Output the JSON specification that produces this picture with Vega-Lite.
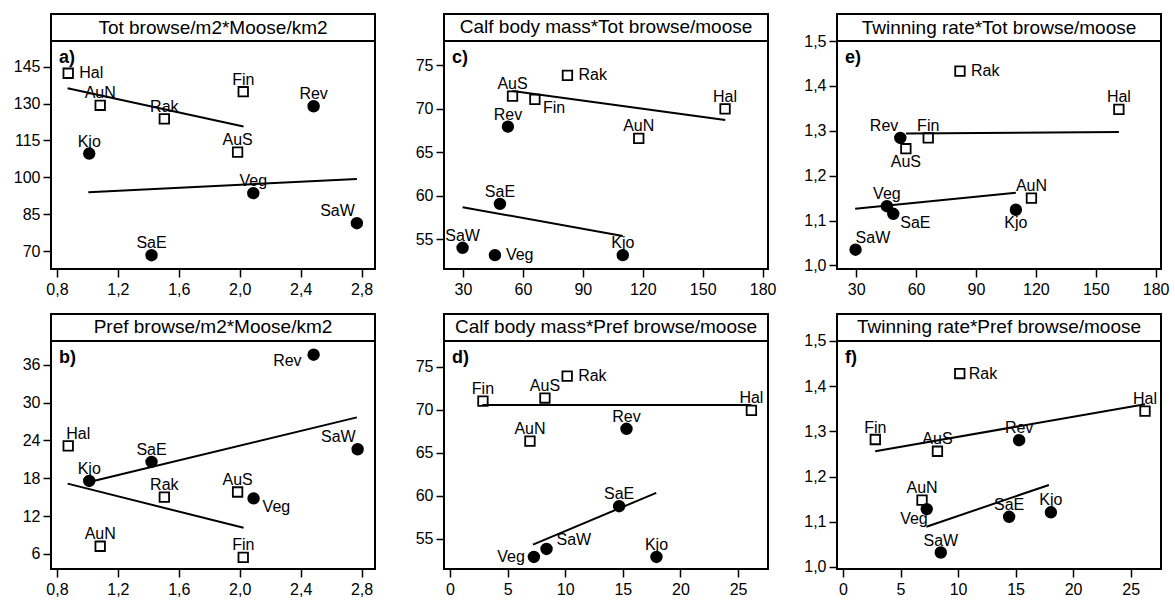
{
  "$schema": "https://vega.github.io/schema/vega-lite/v6.json",
  "padding": {"left": 12, "top": 13, "right": 2, "bottom": 2},
  "config": {
    "font": "Liberation Sans",
    "view": {"stroke": "black", "strokeWidth": 2},
    "axis": {"grid": false, "domain": false, "tickColor": "black", "tickWidth": 1.5, "tickSize": 8, "labelFontSize": 16, "labelColor": "black", "labelFont": "Liberation Sans", "labelFlush": false, "labelOverlap": false, "labelBound": false},
    "axisX": {"labelPadding": 4},
    "axisY": {"labelPadding": 3},
    "text": {"font": "Liberation Sans", "fontSize": 16, "color": "black"}
  },
  "datasets": {
    "pts": [
      {"panel": "a", "site": "Hal", "group": "B", "x": 0.874, "y": 142.3, "side": "r"},
      {"panel": "a", "site": "AuN", "group": "B", "x": 1.084, "y": 129.3, "side": "t"},
      {"panel": "a", "site": "Rak", "group": "B", "x": 1.505, "y": 123.8, "side": "t"},
      {"panel": "a", "site": "Fin", "group": "B", "x": 2.023, "y": 134.8, "side": "t"},
      {"panel": "a", "site": "AuS", "group": "B", "x": 1.986, "y": 110.3, "side": "t"},
      {"panel": "a", "site": "Rev", "group": "A", "x": 2.485, "y": 128.9, "side": "t"},
      {"panel": "a", "site": "Kjo", "group": "A", "x": 1.012, "y": 109.7, "side": "t"},
      {"panel": "a", "site": "Veg", "group": "A", "x": 2.089, "y": 93.6, "side": "t"},
      {"panel": "a", "site": "SaW", "group": "A", "x": 2.769, "y": 81.4, "side": "tl"},
      {"panel": "a", "site": "SaE", "group": "A", "x": 1.421, "y": 68.4, "side": "t"},

      {"panel": "b", "site": "Rev", "group": "A", "x": 2.485, "y": 37.6, "side": "l"},
      {"panel": "b", "site": "Hal", "group": "B", "x": 0.874, "y": 23.15, "side": "tr"},
      {"panel": "b", "site": "SaW", "group": "A", "x": 2.774, "y": 22.6, "side": "tl"},
      {"panel": "b", "site": "SaE", "group": "A", "x": 1.421, "y": 20.6, "side": "t"},
      {"panel": "b", "site": "Kjo", "group": "A", "x": 1.012, "y": 17.57, "side": "t"},
      {"panel": "b", "site": "AuS", "group": "B", "x": 1.986, "y": 15.82, "side": "t"},
      {"panel": "b", "site": "Veg", "group": "A", "x": 2.091, "y": 14.81, "side": "br"},
      {"panel": "b", "site": "Rak", "group": "B", "x": 1.505, "y": 15.02, "side": "t"},
      {"panel": "b", "site": "AuN", "group": "B", "x": 1.084, "y": 7.22, "side": "t"},
      {"panel": "b", "site": "Fin", "group": "B", "x": 2.023, "y": 5.46, "side": "t"},

      {"panel": "c", "site": "AuS", "group": "B", "x": 54.8, "y": 71.46, "side": "t"},
      {"panel": "c", "site": "Rak", "group": "B", "x": 82.3, "y": 73.85, "side": "r"},
      {"panel": "c", "site": "Fin", "group": "B", "x": 66.0, "y": 71.08, "side": "br"},
      {"panel": "c", "site": "Hal", "group": "B", "x": 161.2, "y": 70.0, "side": "t"},
      {"panel": "c", "site": "AuN", "group": "B", "x": 118.0, "y": 66.6, "side": "t"},
      {"panel": "c", "site": "Rev", "group": "A", "x": 52.5, "y": 67.96, "side": "t"},
      {"panel": "c", "site": "SaE", "group": "A", "x": 48.5, "y": 59.08, "side": "t"},
      {"panel": "c", "site": "SaW", "group": "A", "x": 29.8, "y": 54.04, "side": "t"},
      {"panel": "c", "site": "Veg", "group": "A", "x": 46.0, "y": 53.19, "side": "r"},
      {"panel": "c", "site": "Kjo", "group": "A", "x": 110.0, "y": 53.19, "side": "t"},

      {"panel": "d", "site": "Rak", "group": "B", "x": 10.17, "y": 73.91, "side": "r"},
      {"panel": "d", "site": "Fin", "group": "B", "x": 2.86, "y": 71.0, "side": "t"},
      {"panel": "d", "site": "AuS", "group": "B", "x": 8.24, "y": 71.36, "side": "t"},
      {"panel": "d", "site": "Hal", "group": "B", "x": 26.16, "y": 69.92, "side": "t"},
      {"panel": "d", "site": "Rev", "group": "A", "x": 15.32, "y": 67.79, "side": "t"},
      {"panel": "d", "site": "AuN", "group": "B", "x": 6.94, "y": 66.36, "side": "t"},
      {"panel": "d", "site": "SaE", "group": "A", "x": 14.68, "y": 58.8, "side": "t"},
      {"panel": "d", "site": "SaW", "group": "A", "x": 8.38, "y": 53.84, "side": "tr"},
      {"panel": "d", "site": "Veg", "group": "A", "x": 7.28, "y": 52.91, "side": "l"},
      {"panel": "d", "site": "Kjo", "group": "A", "x": 17.92, "y": 52.91, "side": "t"},

      {"panel": "e", "site": "Rak", "group": "B", "x": 82.0, "y": 1.433, "side": "r"},
      {"panel": "e", "site": "Hal", "group": "B", "x": 161.6, "y": 1.3475, "side": "t"},
      {"panel": "e", "site": "Rev", "group": "A", "x": 52.1, "y": 1.284, "side": "tl"},
      {"panel": "e", "site": "Fin", "group": "B", "x": 66.1, "y": 1.284, "side": "t"},
      {"panel": "e", "site": "AuS", "group": "B", "x": 54.9, "y": 1.26, "side": "b"},
      {"panel": "e", "site": "Veg", "group": "A", "x": 45.4, "y": 1.132, "side": "t"},
      {"panel": "e", "site": "SaE", "group": "A", "x": 48.6, "y": 1.115, "side": "br"},
      {"panel": "e", "site": "AuN", "group": "B", "x": 117.8, "y": 1.15, "side": "t"},
      {"panel": "e", "site": "Kjo", "group": "A", "x": 110.0, "y": 1.124, "side": "b"},
      {"panel": "e", "site": "SaW", "group": "A", "x": 29.7, "y": 1.035, "side": "tr"},

      {"panel": "f", "site": "Rak", "group": "B", "x": 10.15, "y": 1.428, "side": "r"},
      {"panel": "f", "site": "Hal", "group": "B", "x": 26.25, "y": 1.345, "side": "t"},
      {"panel": "f", "site": "Fin", "group": "B", "x": 2.81, "y": 1.282, "side": "t"},
      {"panel": "f", "site": "AuS", "group": "B", "x": 8.21, "y": 1.256, "side": "t"},
      {"panel": "f", "site": "Rev", "group": "A", "x": 15.31, "y": 1.2805, "side": "t"},
      {"panel": "f", "site": "AuN", "group": "B", "x": 6.87, "y": 1.148, "side": "t"},
      {"panel": "f", "site": "Veg", "group": "A", "x": 7.28, "y": 1.128, "side": "bl"},
      {"panel": "f", "site": "SaE", "group": "A", "x": 14.44, "y": 1.111, "side": "t"},
      {"panel": "f", "site": "Kjo", "group": "A", "x": 18.07, "y": 1.121, "side": "t"},
      {"panel": "f", "site": "SaW", "group": "A", "x": 8.5, "y": 1.032, "side": "t"}
    ],
    "fits": [
      {"panel": "a", "group": "B", "x": 0.87, "y": 136.2},
      {"panel": "a", "group": "B", "x": 2.025, "y": 120.7},
      {"panel": "a", "group": "A", "x": 1.006, "y": 94.0},
      {"panel": "a", "group": "A", "x": 2.769, "y": 99.4},
      {"panel": "b", "group": "A", "x": 1.012, "y": 17.41},
      {"panel": "b", "group": "A", "x": 2.769, "y": 27.66},
      {"panel": "b", "group": "B", "x": 0.87, "y": 17.15},
      {"panel": "b", "group": "B", "x": 2.025, "y": 10.14},
      {"panel": "c", "group": "B", "x": 54.8, "y": 72.04},
      {"panel": "c", "group": "B", "x": 161.3, "y": 68.73},
      {"panel": "c", "group": "A", "x": 29.8, "y": 58.7},
      {"panel": "c", "group": "A", "x": 110.0, "y": 55.4},
      {"panel": "d", "group": "B", "x": 2.8, "y": 70.54},
      {"panel": "d", "group": "B", "x": 26.16, "y": 70.54},
      {"panel": "d", "group": "A", "x": 7.2, "y": 54.34},
      {"panel": "d", "group": "A", "x": 17.9, "y": 60.35},
      {"panel": "e", "group": "B", "x": 54.9, "y": 1.294},
      {"panel": "e", "group": "B", "x": 161.6, "y": 1.297},
      {"panel": "e", "group": "A", "x": 29.5, "y": 1.126},
      {"panel": "e", "group": "A", "x": 110.0, "y": 1.162},
      {"panel": "f", "group": "B", "x": 2.8, "y": 1.256},
      {"panel": "f", "group": "B", "x": 26.25, "y": 1.36},
      {"panel": "f", "group": "A", "x": 7.25, "y": 1.089},
      {"panel": "f", "group": "A", "x": 17.9, "y": 1.1815}
    ]
  },
  "columns": 3,
  "spacing": {"row": 45, "column": 69},
  "bounds": "flush",
  "concat": [
    {"width": 324, "height": 255,
      "layer": [
        {"data": {"name": "pts"},
          "encoding": {
            "x": {"field": "x", "type": "quantitative", "scale": {"domain": [0.761, 2.888], "nice": false, "zero": false}, "axis": {"title": null, "values": [0.8, 1.2, 1.6, 2.0, 2.4, 2.8], "labelExpr": "replace(format(datum.value,'.1f'),'.',',')"}},
            "y": {"field": "y", "type": "quantitative", "scale": {"domain": [62.8, 166.37], "nice": false, "zero": false}, "axis": {"title": null, "values": [70, 85, 100, 115, 130, 145], "format": "d"}}
          },
          "layer": [
            {"data": {"name": "fits"}, "transform": [{"filter": "datum.panel==='a'"}], "mark": {"type": "line", "color": "black", "strokeWidth": 2}, "encoding": {"detail": {"field": "group", "type": "nominal"}}},
            {"transform": [{"filter": "datum.panel==='a' && datum.group==='A'"}], "mark": {"type": "circle", "size": 154, "color": "black", "opacity": 1}},
            {"transform": [{"filter": "datum.panel==='a' && datum.group==='B'"}], "mark": {"type": "square", "size": 90, "filled": false, "color": "black", "strokeWidth": 1.8, "opacity": 1}},
            {"transform": [{"filter": "datum.panel==='a' && datum.side==='t'"}], "mark": {"type": "text", "dy": -12}, "encoding": {"text": {"field": "site", "type": "nominal"}}},
            {"transform": [{"filter": "datum.panel==='a' && datum.side==='r'"}], "mark": {"type": "text", "align": "left", "dx": 11}, "encoding": {"text": {"field": "site", "type": "nominal"}}},
            {"transform": [{"filter": "datum.panel==='a' && datum.side==='tl'"}], "mark": {"type": "text", "align": "right", "dx": -2, "dy": -12}, "encoding": {"text": {"field": "site", "type": "nominal"}}}
          ]
        },
        {"data": {"values": [{"k": 1}]}, "mark": {"type": "rule", "color": "black", "strokeWidth": 2}, "encoding": {"x": {"datum": 0.761, "axis": {"title": null, "values": [0.8, 1.2, 1.6, 2.0, 2.4, 2.8], "labelExpr": "replace(format(datum.value,'.1f'),'.',',')"}}, "x2": {"datum": 2.888}, "y": {"datum": 155.4, "axis": {"title": null, "values": [70, 85, 100, 115, 130, 145], "format": "d"}}}},
        {"data": {"values": [{"t": "Tot browse/m2*Moose/km2"}]}, "mark": {"type": "text", "fontSize": 19}, "encoding": {"x": {"datum": 1.8245, "axis": {"title": null, "values": [0.8, 1.2, 1.6, 2.0, 2.4, 2.8], "labelExpr": "replace(format(datum.value,'.1f'),'.',',')"}}, "y": {"datum": 160.88, "axis": {"title": null, "values": [70, 85, 100, 115, 130, 145], "format": "d"}}, "text": {"field": "t", "type": "nominal"}}},
        {"data": {"values": [{"l": "a)"}]}, "mark": {"type": "text", "align": "left", "fontWeight": "bold", "fontSize": 18}, "encoding": {"x": {"datum": 0.8135, "axis": {"title": null, "values": [0.8, 1.2, 1.6, 2.0, 2.4, 2.8], "labelExpr": "replace(format(datum.value,'.1f'),'.',',')"}}, "y": {"datum": 148.5, "axis": {"title": null, "values": [70, 85, 100, 115, 130, 145], "format": "d"}}, "text": {"field": "l", "type": "nominal"}}}
      ]
    },
    {"width": 324, "height": 255,
      "layer": [
        {"data": {"name": "pts"},
          "encoding": {
            "x": {"field": "x", "type": "quantitative", "scale": {"domain": [20.5, 182.7], "nice": false, "zero": false}, "axis": {"title": null, "values": [30, 60, 90, 120, 150, 180], "format": "d"}},
            "y": {"field": "y", "type": "quantitative", "scale": {"domain": [51.6, 80.9], "nice": false, "zero": false}, "axis": {"title": null, "values": [55, 60, 65, 70, 75], "format": "d"}}
          },
          "layer": [
            {"data": {"name": "fits"}, "transform": [{"filter": "datum.panel==='c'"}], "mark": {"type": "line", "color": "black", "strokeWidth": 2}, "encoding": {"detail": {"field": "group", "type": "nominal"}}},
            {"transform": [{"filter": "datum.panel==='c' && datum.group==='A'"}], "mark": {"type": "circle", "size": 154, "color": "black", "opacity": 1}},
            {"transform": [{"filter": "datum.panel==='c' && datum.group==='B'"}], "mark": {"type": "square", "size": 90, "filled": false, "color": "black", "strokeWidth": 1.8, "opacity": 1}},
            {"transform": [{"filter": "datum.panel==='c' && datum.side==='t'"}], "mark": {"type": "text", "dy": -12}, "encoding": {"text": {"field": "site", "type": "nominal"}}},
            {"transform": [{"filter": "datum.panel==='c' && datum.side==='r'"}], "mark": {"type": "text", "align": "left", "dx": 11}, "encoding": {"text": {"field": "site", "type": "nominal"}}},
            {"transform": [{"filter": "datum.panel==='c' && datum.side==='br'"}], "mark": {"type": "text", "align": "left", "dx": 8, "dy": 9}, "encoding": {"text": {"field": "site", "type": "nominal"}}}
          ]
        },
        {"data": {"values": [{"k": 1}]}, "mark": {"type": "rule", "color": "black", "strokeWidth": 2}, "encoding": {"x": {"datum": 20.5, "axis": {"title": null, "values": [30, 60, 90, 120, 150, 180], "format": "d"}}, "x2": {"datum": 182.7}, "y": {"datum": 77.8, "axis": {"title": null, "values": [55, 60, 65, 70, 75], "format": "d"}}}},
        {"data": {"values": [{"t": "Calf body  mass*Tot browse/moose"}]}, "mark": {"type": "text", "fontSize": 19}, "encoding": {"x": {"datum": 101.6, "axis": {"title": null, "values": [30, 60, 90, 120, 150, 180], "format": "d"}}, "y": {"datum": 79.35, "axis": {"title": null, "values": [55, 60, 65, 70, 75], "format": "d"}}, "text": {"field": "t", "type": "nominal"}}},
        {"data": {"values": [{"l": "c)"}]}, "mark": {"type": "text", "align": "left", "fontWeight": "bold", "fontSize": 18}, "encoding": {"x": {"datum": 24.5, "axis": {"title": null, "values": [30, 60, 90, 120, 150, 180], "format": "d"}}, "y": {"datum": 75.84, "axis": {"title": null, "values": [55, 60, 65, 70, 75], "format": "d"}}, "text": {"field": "l", "type": "nominal"}}}
      ]
    },
    {"width": 324, "height": 255,
      "layer": [
        {"data": {"name": "pts"},
          "encoding": {
            "x": {"field": "x", "type": "quantitative", "scale": {"domain": [20.4, 182.7], "nice": false, "zero": false}, "axis": {"title": null, "values": [30, 60, 90, 120, 150, 180], "format": "d"}},
            "y": {"field": "y", "type": "quantitative", "scale": {"domain": [0.992, 1.5602], "nice": false, "zero": false}, "axis": {"title": null, "values": [1.0, 1.1, 1.2, 1.3, 1.4, 1.5], "labelExpr": "replace(format(datum.value,'.1f'),'.',',')"}}
          },
          "layer": [
            {"data": {"name": "fits"}, "transform": [{"filter": "datum.panel==='e'"}], "mark": {"type": "line", "color": "black", "strokeWidth": 2}, "encoding": {"detail": {"field": "group", "type": "nominal"}}},
            {"transform": [{"filter": "datum.panel==='e' && datum.group==='A'"}], "mark": {"type": "circle", "size": 154, "color": "black", "opacity": 1}},
            {"transform": [{"filter": "datum.panel==='e' && datum.group==='B'"}], "mark": {"type": "square", "size": 90, "filled": false, "color": "black", "strokeWidth": 1.8, "opacity": 1}},
            {"transform": [{"filter": "datum.panel==='e' && datum.side==='t'"}], "mark": {"type": "text", "dy": -12}, "encoding": {"text": {"field": "site", "type": "nominal"}}},
            {"transform": [{"filter": "datum.panel==='e' && datum.side==='b'"}], "mark": {"type": "text", "dy": 13}, "encoding": {"text": {"field": "site", "type": "nominal"}}},
            {"transform": [{"filter": "datum.panel==='e' && datum.side==='r'"}], "mark": {"type": "text", "align": "left", "dx": 11}, "encoding": {"text": {"field": "site", "type": "nominal"}}},
            {"transform": [{"filter": "datum.panel==='e' && datum.side==='tl'"}], "mark": {"type": "text", "align": "right", "dx": -2, "dy": -12}, "encoding": {"text": {"field": "site", "type": "nominal"}}},
            {"transform": [{"filter": "datum.panel==='e' && datum.side==='tr'"}], "mark": {"type": "text", "align": "left", "dx": 0, "dy": -12}, "encoding": {"text": {"field": "site", "type": "nominal"}}},
            {"transform": [{"filter": "datum.panel==='e' && datum.side==='br'"}], "mark": {"type": "text", "align": "left", "dx": 7, "dy": 9}, "encoding": {"text": {"field": "site", "type": "nominal"}}}
          ]
        },
        {"data": {"values": [{"k": 1}]}, "mark": {"type": "rule", "color": "black", "strokeWidth": 2}, "encoding": {"x": {"datum": 20.4, "axis": {"title": null, "values": [30, 60, 90, 120, 150, 180], "format": "d"}}, "x2": {"datum": 182.7}, "y": {"datum": 1.5, "axis": {"title": null, "values": [1.0, 1.1, 1.2, 1.3, 1.4, 1.5], "labelExpr": "replace(format(datum.value,'.1f'),'.',',')"}}}},
        {"data": {"values": [{"t": "Twinning rate*Tot browse/moose"}]}, "mark": {"type": "text", "fontSize": 19}, "encoding": {"x": {"datum": 101.55, "axis": {"title": null, "values": [30, 60, 90, 120, 150, 180], "format": "d"}}, "y": {"datum": 1.5301, "axis": {"title": null, "values": [1.0, 1.1, 1.2, 1.3, 1.4, 1.5], "labelExpr": "replace(format(datum.value,'.1f'),'.',',')"}}, "text": {"field": "t", "type": "nominal"}}},
        {"data": {"values": [{"l": "e)"}]}, "mark": {"type": "text", "align": "left", "fontWeight": "bold", "fontSize": 18}, "encoding": {"x": {"datum": 24.4, "axis": {"title": null, "values": [30, 60, 90, 120, 150, 180], "format": "d"}}, "y": {"datum": 1.462, "axis": {"title": null, "values": [1.0, 1.1, 1.2, 1.3, 1.4, 1.5], "labelExpr": "replace(format(datum.value,'.1f'),'.',',')"}}, "text": {"field": "l", "type": "nominal"}}}
      ]
    },
    {"width": 324, "height": 255,
      "layer": [
        {"data": {"name": "pts"},
          "encoding": {
            "x": {"field": "x", "type": "quantitative", "scale": {"domain": [0.761, 2.888], "nice": false, "zero": false}, "axis": {"title": null, "values": [0.8, 1.2, 1.6, 2.0, 2.4, 2.8], "labelExpr": "replace(format(datum.value,'.1f'),'.',',')"}},
            "y": {"field": "y", "type": "quantitative", "scale": {"domain": [3.61, 44.05], "nice": false, "zero": false}, "axis": {"title": null, "values": [6, 12, 18, 24, 30, 36], "format": "d"}}
          },
          "layer": [
            {"data": {"name": "fits"}, "transform": [{"filter": "datum.panel==='b'"}], "mark": {"type": "line", "color": "black", "strokeWidth": 2}, "encoding": {"detail": {"field": "group", "type": "nominal"}}},
            {"transform": [{"filter": "datum.panel==='b' && datum.group==='A'"}], "mark": {"type": "circle", "size": 154, "color": "black", "opacity": 1}},
            {"transform": [{"filter": "datum.panel==='b' && datum.group==='B'"}], "mark": {"type": "square", "size": 90, "filled": false, "color": "black", "strokeWidth": 1.8, "opacity": 1}},
            {"transform": [{"filter": "datum.panel==='b' && datum.side==='t'"}], "mark": {"type": "text", "dy": -12}, "encoding": {"text": {"field": "site", "type": "nominal"}}},
            {"transform": [{"filter": "datum.panel==='b' && datum.side==='l'"}], "mark": {"type": "text", "align": "right", "dx": -12, "dy": 6}, "encoding": {"text": {"field": "site", "type": "nominal"}}},
            {"transform": [{"filter": "datum.panel==='b' && datum.side==='tl'"}], "mark": {"type": "text", "align": "right", "dx": -2, "dy": -12}, "encoding": {"text": {"field": "site", "type": "nominal"}}},
            {"transform": [{"filter": "datum.panel==='b' && datum.side==='tr'"}], "mark": {"type": "text", "align": "left", "dx": -2, "dy": -12}, "encoding": {"text": {"field": "site", "type": "nominal"}}},
            {"transform": [{"filter": "datum.panel==='b' && datum.side==='br'"}], "mark": {"type": "text", "align": "left", "dx": 9, "dy": 9}, "encoding": {"text": {"field": "site", "type": "nominal"}}}
          ]
        },
        {"data": {"values": [{"k": 1}]}, "mark": {"type": "rule", "color": "black", "strokeWidth": 2}, "encoding": {"x": {"datum": 0.761, "axis": {"title": null, "values": [0.8, 1.2, 1.6, 2.0, 2.4, 2.8], "labelExpr": "replace(format(datum.value,'.1f'),'.',',')"}}, "x2": {"datum": 2.888}, "y": {"datum": 39.77, "axis": {"title": null, "values": [6, 12, 18, 24, 30, 36], "format": "d"}}}},
        {"data": {"values": [{"t": "Pref browse/m2*Moose/km2"}]}, "mark": {"type": "text", "fontSize": 19}, "encoding": {"x": {"datum": 1.8245, "axis": {"title": null, "values": [0.8, 1.2, 1.6, 2.0, 2.4, 2.8], "labelExpr": "replace(format(datum.value,'.1f'),'.',',')"}}, "y": {"datum": 41.91, "axis": {"title": null, "values": [6, 12, 18, 24, 30, 36], "format": "d"}}, "text": {"field": "t", "type": "nominal"}}},
        {"data": {"values": [{"l": "b)"}]}, "mark": {"type": "text", "align": "left", "fontWeight": "bold", "fontSize": 18}, "encoding": {"x": {"datum": 0.8135, "axis": {"title": null, "values": [0.8, 1.2, 1.6, 2.0, 2.4, 2.8], "labelExpr": "replace(format(datum.value,'.1f'),'.',',')"}}, "y": {"datum": 37.06, "axis": {"title": null, "values": [6, 12, 18, 24, 30, 36], "format": "d"}}, "text": {"field": "l", "type": "nominal"}}}
      ]
    },
    {"width": 324, "height": 255,
      "layer": [
        {"data": {"name": "pts"},
          "encoding": {
            "x": {"field": "x", "type": "quantitative", "scale": {"domain": [-0.52, 27.6], "nice": false, "zero": false}, "axis": {"title": null, "values": [0, 5, 10, 15, 20, 25], "format": "d"}},
            "y": {"field": "y", "type": "quantitative", "scale": {"domain": [51.51, 81.115], "nice": false, "zero": false}, "axis": {"title": null, "values": [55, 60, 65, 70, 75], "format": "d"}}
          },
          "layer": [
            {"data": {"name": "fits"}, "transform": [{"filter": "datum.panel==='d'"}], "mark": {"type": "line", "color": "black", "strokeWidth": 2}, "encoding": {"detail": {"field": "group", "type": "nominal"}}},
            {"transform": [{"filter": "datum.panel==='d' && datum.group==='A'"}], "mark": {"type": "circle", "size": 154, "color": "black", "opacity": 1}},
            {"transform": [{"filter": "datum.panel==='d' && datum.group==='B'"}], "mark": {"type": "square", "size": 90, "filled": false, "color": "black", "strokeWidth": 1.8, "opacity": 1}},
            {"transform": [{"filter": "datum.panel==='d' && datum.side==='t'"}], "mark": {"type": "text", "dy": -12}, "encoding": {"text": {"field": "site", "type": "nominal"}}},
            {"transform": [{"filter": "datum.panel==='d' && datum.side==='r'"}], "mark": {"type": "text", "align": "left", "dx": 11}, "encoding": {"text": {"field": "site", "type": "nominal"}}},
            {"transform": [{"filter": "datum.panel==='d' && datum.side==='l'"}], "mark": {"type": "text", "align": "right", "dx": -9}, "encoding": {"text": {"field": "site", "type": "nominal"}}},
            {"transform": [{"filter": "datum.panel==='d' && datum.side==='tr'"}], "mark": {"type": "text", "align": "left", "dx": 10, "dy": -9}, "encoding": {"text": {"field": "site", "type": "nominal"}}}
          ]
        },
        {"data": {"values": [{"k": 1}]}, "mark": {"type": "rule", "color": "black", "strokeWidth": 2}, "encoding": {"x": {"datum": -0.52, "axis": {"title": null, "values": [0, 5, 10, 15, 20, 25], "format": "d"}}, "x2": {"datum": 27.6}, "y": {"datum": 77.98, "axis": {"title": null, "values": [55, 60, 65, 70, 75], "format": "d"}}}},
        {"data": {"values": [{"t": "Calf body  mass*Pref browse/moose"}]}, "mark": {"type": "text", "fontSize": 19}, "encoding": {"x": {"datum": 13.54, "axis": {"title": null, "values": [0, 5, 10, 15, 20, 25], "format": "d"}}, "y": {"datum": 79.55, "axis": {"title": null, "values": [55, 60, 65, 70, 75], "format": "d"}}, "text": {"field": "t", "type": "nominal"}}},
        {"data": {"values": [{"l": "d)"}]}, "mark": {"type": "text", "align": "left", "fontWeight": "bold", "fontSize": 18}, "encoding": {"x": {"datum": 0.17, "axis": {"title": null, "values": [0, 5, 10, 15, 20, 25], "format": "d"}}, "y": {"datum": 76.0, "axis": {"title": null, "values": [55, 60, 65, 70, 75], "format": "d"}}, "text": {"field": "l", "type": "nominal"}}}
      ]
    },
    {"width": 324, "height": 255,
      "layer": [
        {"data": {"name": "pts"},
          "encoding": {
            "x": {"field": "x", "type": "quantitative", "scale": {"domain": [-0.52, 27.64], "nice": false, "zero": false}, "axis": {"title": null, "values": [0, 5, 10, 15, 20, 25], "format": "d"}},
            "y": {"field": "y", "type": "quantitative", "scale": {"domain": [0.9955, 1.5597], "nice": false, "zero": false}, "axis": {"title": null, "values": [1.0, 1.1, 1.2, 1.3, 1.4, 1.5], "labelExpr": "replace(format(datum.value,'.1f'),'.',',')"}}
          },
          "layer": [
            {"data": {"name": "fits"}, "transform": [{"filter": "datum.panel==='f'"}], "mark": {"type": "line", "color": "black", "strokeWidth": 2}, "encoding": {"detail": {"field": "group", "type": "nominal"}}},
            {"transform": [{"filter": "datum.panel==='f' && datum.group==='A'"}], "mark": {"type": "circle", "size": 154, "color": "black", "opacity": 1}},
            {"transform": [{"filter": "datum.panel==='f' && datum.group==='B'"}], "mark": {"type": "square", "size": 90, "filled": false, "color": "black", "strokeWidth": 1.8, "opacity": 1}},
            {"transform": [{"filter": "datum.panel==='f' && datum.side==='t'"}], "mark": {"type": "text", "dy": -12}, "encoding": {"text": {"field": "site", "type": "nominal"}}},
            {"transform": [{"filter": "datum.panel==='f' && datum.side==='r'"}], "mark": {"type": "text", "align": "left", "dx": 9}, "encoding": {"text": {"field": "site", "type": "nominal"}}},
            {"transform": [{"filter": "datum.panel==='f' && datum.side==='bl'"}], "mark": {"type": "text", "align": "right", "dx": 1, "dy": 10}, "encoding": {"text": {"field": "site", "type": "nominal"}}}
          ]
        },
        {"data": {"values": [{"k": 1}]}, "mark": {"type": "rule", "color": "black", "strokeWidth": 2}, "encoding": {"x": {"datum": -0.52, "axis": {"title": null, "values": [0, 5, 10, 15, 20, 25], "format": "d"}}, "x2": {"datum": 27.64}, "y": {"datum": 1.5, "axis": {"title": null, "values": [1.0, 1.1, 1.2, 1.3, 1.4, 1.5], "labelExpr": "replace(format(datum.value,'.1f'),'.',',')"}}}},
        {"data": {"values": [{"t": "Twinning rate*Pref browse/moose"}]}, "mark": {"type": "text", "fontSize": 19}, "encoding": {"x": {"datum": 13.56, "axis": {"title": null, "values": [0, 5, 10, 15, 20, 25], "format": "d"}}, "y": {"datum": 1.5299, "axis": {"title": null, "values": [1.0, 1.1, 1.2, 1.3, 1.4, 1.5], "labelExpr": "replace(format(datum.value,'.1f'),'.',',')"}}, "text": {"field": "t", "type": "nominal"}}},
        {"data": {"values": [{"l": "f)"}]}, "mark": {"type": "text", "align": "left", "fontWeight": "bold", "fontSize": 18}, "encoding": {"x": {"datum": 0.176, "axis": {"title": null, "values": [0, 5, 10, 15, 20, 25], "format": "d"}}, "y": {"datum": 1.462, "axis": {"title": null, "values": [1.0, 1.1, 1.2, 1.3, 1.4, 1.5], "labelExpr": "replace(format(datum.value,'.1f'),'.',',')"}}, "text": {"field": "l", "type": "nominal"}}}
      ]
    }
  ]
}
